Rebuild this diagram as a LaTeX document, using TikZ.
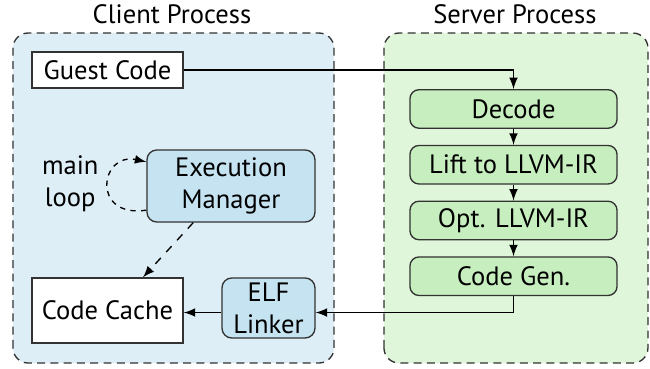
\documentclass[tikz,border=0pt]{standalone}
\usepackage{fontspec}
\setmainfont{PT Sans}
\usetikzlibrary{positioning}

\definecolor{clientbg}{RGB}{222,238,247}
\definecolor{serverbg}{RGB}{224,246,218}
\definecolor{unitblue}{RGB}{197,227,240}
\definecolor{unitgreen}{RGB}{198,238,190}
\definecolor{edgegray}{RGB}{50,50,50}

\begin{document}
\begin{tikzpicture}[
  process/.style={draw=edgegray, dash pattern=on 3pt off 2pt, rounded corners=0.2cm, line width=0.5pt},
  title/.style={inner sep=1pt},
  store/.style={draw=edgegray, fill=white, line width=0.5pt, inner sep=0pt},
  unit/.style={draw=edgegray, fill=unitblue, rounded corners=0.13cm, line width=0.5pt,
               align=center, inner sep=0pt},
  stage/.style={draw=edgegray, fill=unitgreen, rounded corners=0.12cm, line width=0.5pt,
                minimum width=2.74cm, minimum height=0.51cm, inner sep=0pt},
  flow/.style={-latex, line width=0.5pt},
  node distance=0.21cm
]
  \useasboundingbox (0,0) rectangle (8.6,4.869);

  % the two processes
  \draw[process, fill=clientbg] (0.172,0.066) rectangle (4.419,4.432);
  \draw[process, fill=serverbg] (5.080,0.066) rectangle (8.573,4.432);
  \node[title] (clienttitle) at (2.276,4.675) {Client Process};
  \node[title] (servertitle) at (6.813,4.675) {Server Process};

  % client side
  \node[store, minimum width=2cm, minimum height=0.476cm] (guest) at (1.422,3.943) {Guest Code};
  \node[store, minimum width=2cm, minimum height=0.86cm] (cache) at (1.422,0.761) {Code Cache};
  \node[unit, minimum width=2.223cm, minimum height=0.953cm] (exec) at (3.056,2.408)
    {Execution\\Manager};
  \node[unit, minimum width=1.23cm, minimum height=0.794cm] (elf) at (3.552,0.794)
    {ELF\\Linker};
  \node[align=center, inner sep=0pt] (loop) at (0.93,2.44) {main\\loop};

  % server side: translation pipeline
  \node[stage] (decode) at (6.794,3.427) {Decode};
  \node[stage, below=of decode] (lift) {Lift to LLVM-IR};
  \node[stage, below=of lift] (opt) {Opt. LLVM-IR};
  \node[stage, below=of opt] (codegen) {Code Gen.};

  \coordinate (loopout) at ([yshift=-0.32cm]exec.west);
  \coordinate (loopin) at ([yshift=0.32cm]exec.west);

  % connections
  \draw[flow] (guest.east) -| (decode.north);
  \draw[flow] (decode) -- (lift);
  \draw[flow] (lift) -- (opt);
  \draw[flow] (opt) -- (codegen);
  \draw[flow] (codegen.south) |- ([yshift=-0.06cm]elf.east);
  \draw[flow] ([yshift=-0.06cm]elf.west) -- ([yshift=-0.06cm]elf.west -| cache.east);
  \draw[flow, dashed] ([xshift=-0.5cm]exec.south) -- ([xshift=0.47cm]cache.north);
  \draw[flow, dash pattern=on 2pt off 2pt] (loopout) .. controls (1.2,1.98) and (1.32,2.86) .. (loopin);
\end{tikzpicture}
\end{document}
